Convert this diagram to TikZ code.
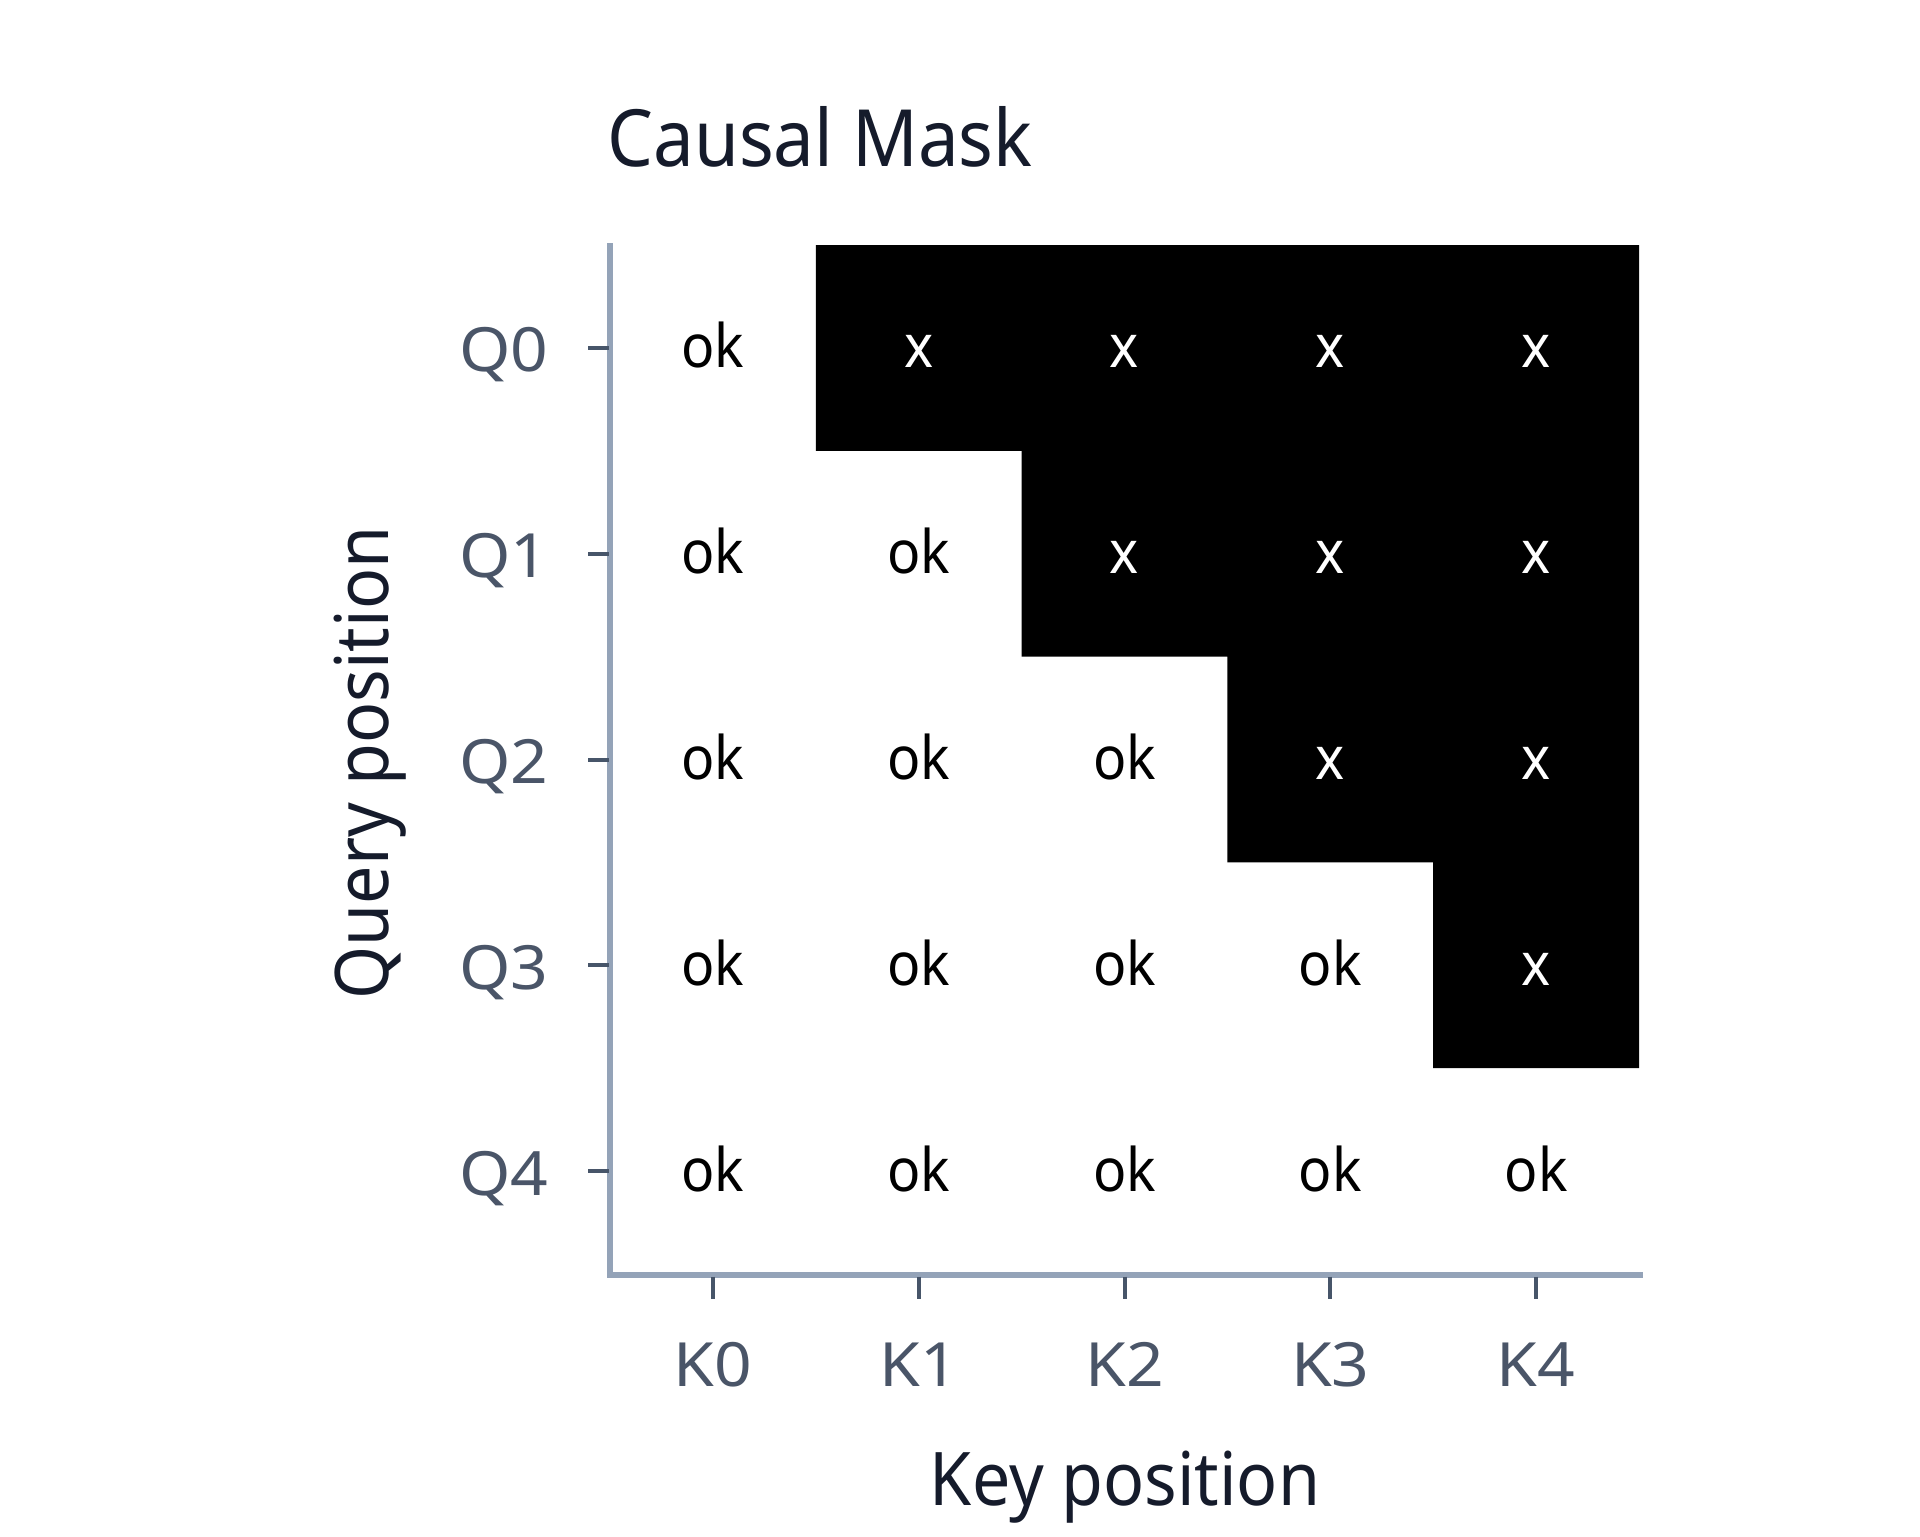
\documentclass[tikz,border=0pt]{standalone}
\usepackage{fontspec}
\setmainfont[FakeStretch=0.92]{Noto Sans}
\newfontfamily\tickfont[FakeStretch=1.08]{Noto Sans}
\definecolor{titlecol}{HTML}{151B2B}
\definecolor{tickcol}{HTML}{4A5568}
\definecolor{tickmarkcol}{HTML}{475569}
\definecolor{axiscol}{HTML}{94A3B8}
\begin{document}
\begin{tikzpicture}[x=0.5pt,y=-0.5pt,
  titletext/.style={font=\fontsize{39.5}{46}\selectfont, text=titlecol, inner sep=0pt, anchor=base west},
  axlabel/.style={font=\fontsize{37}{44}\selectfont, text=titlecol, inner sep=0pt, anchor=base},
  ticklabel/.style={font=\tickfont\fontsize{30.5}{36}\selectfont, text=tickcol, inner sep=0pt},
  okcell/.style={font=\fontsize{30}{36}\selectfont, text=black, inner sep=0pt, anchor=base},
  xcell/.style={font=\fontsize{30}{36}\selectfont, text=white, inner sep=0pt, anchor=base},
  axisline/.style={draw=axiscol, line width=3pt},
  tickmark/.style={draw=tickmarkcol, line width=2pt}]
\useasboundingbox (0,0) rectangle (1920,1536);
\fill[white] (0,0) rectangle (1920,1536);
% masked region
\fill[black] (815.8,245) -- (1639,245) -- (1639,1068.2) -- (1433.2,1068.2)
  -- (1433.2,862.4) -- (1227.4,862.4) -- (1227.4,656.6) -- (1021.6,656.6)
  -- (1021.6,450.8) -- (815.8,450.8) -- cycle;
% axes
\coordinate (axtop) at (610,243);
\coordinate (origin) at (610,1275);
\coordinate (axright) at (1643,1275);
\draw[axisline] (axtop) -- (origin) -- (axright);
% title
\node[titletext] (title) at (607,166) {Causal Mask};
% cells, ticks, tick labels
\foreach \i in {0,...,4}{
  \pgfmathsetmacro{\yc}{245+205.8*(\i+0.5)}
  \coordinate (qt\i a) at (588,\yc);
  \coordinate (qt\i b) at (608.5,\yc);
  \draw[tickmark] (qt\i a) -- (qt\i b);
  \node[ticklabel, anchor=base east] (Q\i) at (549,\yc+24) {Q\i};
  \foreach \j in {0,...,4}{
    \pgfmathsetmacro{\xc}{610+205.8*(\j+0.5)}
    \ifnum\i<\j
      \node[xcell] (c\i\j) at (\xc,\yc+20) {x};
    \else
      \node[okcell] (c\i\j) at (\xc,\yc+20) {ok};
    \fi
  }
}
\foreach \j in {0,...,4}{
  \pgfmathsetmacro{\xc}{610+205.8*(\j+0.5)}
  \coordinate (kt\j a) at (\xc,1276.5);
  \coordinate (kt\j b) at (\xc,1299);
  \draw[tickmark] (kt\j a) -- (kt\j b);
  \node[ticklabel, anchor=base] (K\j) at (\xc,1386) {K\j};
}
% axis labels
\node[axlabel] (xlabel) at (1125,1505) {Key position};
\node[axlabel, rotate=90] (ylabel) at (388,763) {Query position};
\end{tikzpicture}
\end{document}
